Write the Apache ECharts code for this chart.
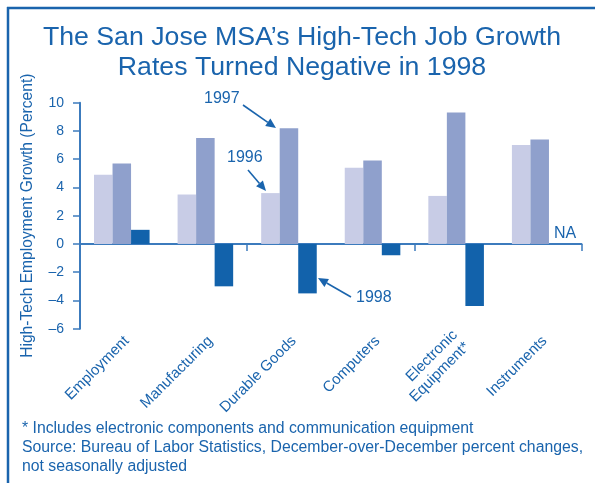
<!DOCTYPE html>
<html>
<head>
<meta charset="utf-8">
<script src="https://cdn.jsdelivr.net/npm/echarts@6/dist/echarts.min.js"></script>
<style>
html,body{margin:0;padding:0;background:#fff;}
#main{width:595px;height:483px;}
</style>
</head>
<body>
<div id="main"></div>
<script>
// ---- data ----
const categories = ['Employment', 'Manufacturing', 'Durable Goods', 'Computers', 'Electronic\nEquipment*', 'Instruments'];
const values1996 = [4.9, 3.5, 3.6, 5.4, 3.4, 7.0];
const values1997 = [5.7, 7.5, 8.2, 5.9, 9.3, 7.4];
const values1998 = [1.0, -3.0, -3.5, -0.8, -4.4, null];
const yTicks = [-6, -4, -2, 0, 2, 4, 6, 8, 10];
const titleText = 'The San Jose MSA\u2019s High-Tech Job Growth\nRates Turned Negative in 1998';
const yAxisName = 'High-Tech Employment Growth (Percent)';
const footnotes = '* Includes electronic components and communication equipment\nSource: Bureau of Labor Statistics, December-over-December percent changes,\nnot seasonally adjusted';

const BLUE = '#1a64ad';
const AXIS = '#3c7bbd';
const FONT = '"Liberation Sans", Arial, Helvetica, sans-serif';

function arrow(x1, y1, x2, y2) {
  const dx = x2 - x1, dy = y2 - y1;
  const len = Math.sqrt(dx * dx + dy * dy);
  const ux = dx / len, uy = dy / len;
  const hl = 10, hw = 4.5;
  const bx = x2 - ux * hl, by = y2 - uy * hl;
  return [
    { type: 'line', shape: { x1: x1, y1: y1, x2: bx, y2: by }, style: { stroke: BLUE, lineWidth: 1.6 } },
    { type: 'polygon', shape: { points: [[x2, y2], [bx - uy * hw, by + ux * hw], [bx + uy * hw, by - ux * hw]] }, style: { fill: BLUE } }
  ];
}

const chart = echarts.init(document.getElementById('main'), null, { renderer: 'canvas' });

const option = {
  backgroundColor: '#ffffff',
  animation: false,
  textStyle: { fontFamily: FONT },
  title: {
    text: titleText,
    left: 297,
    top: 18,
    textAlign: 'center',
    textStyle: { color: BLUE, fontSize: 26.7, fontWeight: 'normal', lineHeight: 30, fontFamily: FONT }
  },
  grid: [
    { left: 80, right: 13.5, top: 102.7, bottom: 154.3, containLabel: false },
    { left: 85, right: 8.5, top: 102.7, bottom: 154.3, containLabel: false }
  ],
  xAxis: [
    {
      type: 'category',
      gridIndex: 0,
      data: categories,
      position: 'bottom',
      axisLine: { onZero: true, lineStyle: { color: AXIS, width: 2 } },
      axisTick: { show: true, length: 7, inside: false, lineStyle: { color: AXIS, width: 1.5 } },
      axisLabel: { show: false },
      splitLine: { show: false }
    },
    {
      type: 'category',
      gridIndex: 1,
      data: categories,
      position: 'bottom',
      axisLine: { show: false, onZero: false },
      axisTick: { show: false },
      axisLabel: {
        show: true, rotate: 45, interval: 0, margin: 10,
        color: BLUE, fontSize: 15, fontFamily: FONT, lineHeight: 17
      },
      splitLine: { show: false }
    }
  ],
  yAxis: [
    {
      type: 'value',
      gridIndex: 0,
      min: yTicks[0],
      max: yTicks[yTicks.length - 1],
      interval: 2,
      name: yAxisName,
      nameLocation: 'middle',
      nameGap: 44,
      nameTextStyle: { color: BLUE, fontSize: 15.6, fontFamily: FONT },
      axisLine: { show: true, lineStyle: { color: AXIS, width: 2 } },
      axisTick: { show: true, length: 7, lineStyle: { color: AXIS, width: 1.5 } },
      axisLabel: {
        color: BLUE, fontSize: 14, margin: 16, fontFamily: FONT,
        formatter: function (v) { return v < 0 ? '\u2013' + Math.abs(v) : String(v); }
      },
      splitLine: { show: false }
    },
    {
      type: 'value',
      gridIndex: 1,
      min: yTicks[0],
      max: yTicks[yTicks.length - 1],
      interval: 2,
      show: false
    }
  ],
  series: [
    { name: '1996', type: 'bar', data: values1996, barGap: '0%', barCategoryGap: '33.5%', itemStyle: { color: '#c8cce6' } },
    { name: '1997', type: 'bar', data: values1997, barGap: '0%', barCategoryGap: '33.5%', itemStyle: { color: '#8fa0cc' } },
    { name: '1998', type: 'bar', data: values1998, barGap: '0%', barCategoryGap: '33.5%', itemStyle: { color: '#1262ab' } }
  ],
  graphic: [
    { type: 'line', shape: { x1: 7, y1: 8, x2: 595, y2: 8 }, style: { stroke: BLUE, lineWidth: 2.5 } },
    { type: 'line', shape: { x1: 8, y1: 7, x2: 8, y2: 483 }, style: { stroke: BLUE, lineWidth: 2.5 } },
    { type: 'text', left: 204, top: 91, style: { text: '1997', fill: BLUE, font: '16px ' + FONT } },
    { type: 'text', left: 227, top: 150, style: { text: '1996', fill: BLUE, font: '16px ' + FONT } },
    { type: 'text', left: 356, top: 290, style: { text: '1998', fill: BLUE, font: '16px ' + FONT } },
    { type: 'text', left: 554, top: 226, style: { text: 'NA', fill: BLUE, font: '16px ' + FONT } },
    { type: 'text', left: 22, top: 419, style: { text: footnotes, fill: BLUE, font: '15.8px ' + FONT, lineHeight: 19 } }
  ]
    .concat(arrow(243, 105, 276, 128))
    .concat(arrow(248, 170, 266, 191))
    .concat(arrow(351, 297, 318, 278))
};

chart.setOption(option);
</script>
</body>
</html>
